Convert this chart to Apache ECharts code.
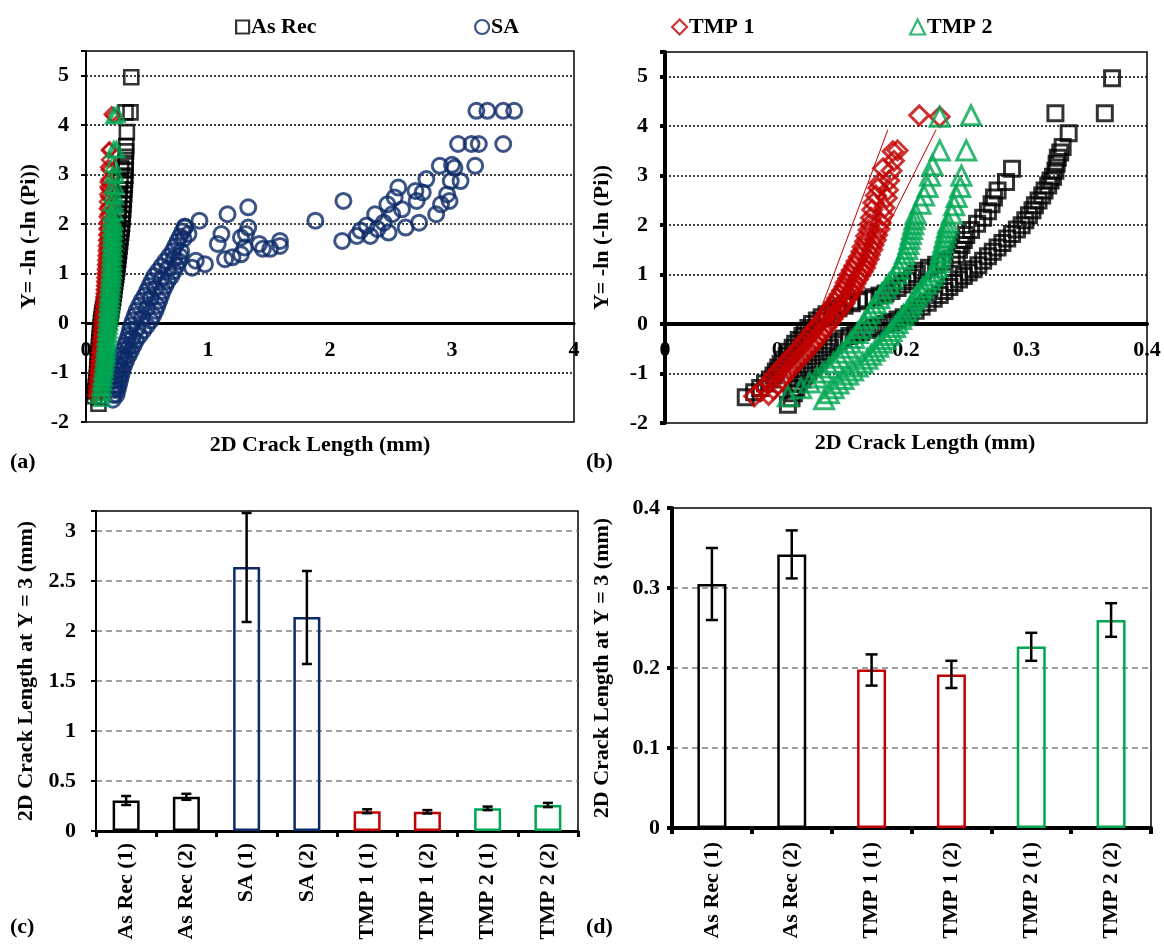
<!DOCTYPE html>
<html>
<head>
<meta charset="utf-8">
<title>2D crack length - Weibull</title>
<script src="https://cdn.jsdelivr.net/npm/echarts@6.0.0/dist/echarts.min.js"></script>
<style>
    html, body { margin: 0; padding: 0; background: #fff; }
    #chart { width: 1164px; height: 949px; }
</style>
</head>
<body>
<div id="chart"></div>
<script>
var FONT = '"Liberation Serif", "Times New Roman", serif';
var FS = 22;
var C_AS = '#000000', C_SA = '#0c2a68', C_T1 = '#c00000', C_T2 = '#00a651';

// ---- Weibull points [crack length mm, Y] ----
var asRec1 = [[0.067,-1.48],[0.074,-1.38],[0.079,-1.29],[0.083,-1.2],[0.087,-1.12],[0.09,-1.04],[0.092,-0.96],[0.094,-0.88],[0.096,-0.8],[0.098,-0.72],[0.101,-0.64],[0.103,-0.56],[0.106,-0.48],[0.108,-0.4],[0.111,-0.32],[0.114,-0.24],[0.116,-0.16],[0.119,-0.08],[0.122,0],[0.126,0.07],[0.13,0.14],[0.134,0.2],[0.139,0.26],[0.144,0.32],[0.149,0.37],[0.155,0.42],[0.161,0.46],[0.167,0.5],[0.173,0.54],[0.178,0.58],[0.183,0.62],[0.188,0.67],[0.193,0.73],[0.197,0.8],[0.201,0.87],[0.205,0.94],[0.209,1.01],[0.214,1.08],[0.219,1.14],[0.225,1.2],[0.232,1.26],[0.238,1.32],[0.242,1.4],[0.244,1.5],[0.246,1.6],[0.248,1.7],[0.25,1.8],[0.254,1.9],[0.259,2.03],[0.264,2.15],[0.268,2.28],[0.271,2.42],[0.273,2.56],[0.276,2.7],[0.283,2.87],[0.288,3.14],[0.324,4.26]];
var asRec2 = [[0.102,-1.63],[0.105,-1.5],[0.107,-1.4],[0.109,-1.3],[0.111,-1.21],[0.114,-1.12],[0.116,-1.04],[0.119,-0.96],[0.122,-0.88],[0.125,-0.8],[0.128,-0.72],[0.131,-0.64],[0.134,-0.56],[0.137,-0.48],[0.14,-0.41],[0.144,-0.35],[0.148,-0.29],[0.153,-0.24],[0.158,-0.2],[0.163,-0.16],[0.168,-0.12],[0.173,-0.08],[0.178,-0.04],[0.183,0],[0.188,0.04],[0.193,0.09],[0.198,0.14],[0.203,0.2],[0.208,0.27],[0.213,0.35],[0.218,0.43],[0.223,0.51],[0.228,0.59],[0.232,0.67],[0.236,0.75],[0.24,0.83],[0.244,0.9],[0.248,0.97],[0.252,1.04],[0.256,1.11],[0.26,1.19],[0.264,1.28],[0.268,1.37],[0.272,1.46],[0.276,1.55],[0.28,1.64],[0.284,1.73],[0.288,1.82],[0.292,1.91],[0.296,2.0],[0.299,2.1],[0.302,2.2],[0.305,2.3],[0.307,2.4],[0.31,2.5],[0.313,2.6],[0.315,2.7],[0.318,2.8],[0.32,2.9],[0.322,2.98],[0.324,3.1],[0.325,3.24],[0.326,3.36],[0.328,3.47],[0.33,3.58],[0.335,3.86],[0.365,4.26],[0.371,4.97]];
var tmp1a = [[0.074,-1.46],[0.079,-1.36],[0.083,-1.27],[0.086,-1.18],[0.089,-1.09],[0.092,-1.0],[0.095,-0.92],[0.098,-0.84],[0.101,-0.76],[0.104,-0.68],[0.107,-0.6],[0.11,-0.52],[0.113,-0.44],[0.115,-0.36],[0.118,-0.28],[0.121,-0.2],[0.123,-0.12],[0.126,-0.04],[0.129,0.04],[0.131,0.12],[0.134,0.2],[0.136,0.28],[0.139,0.36],[0.141,0.44],[0.143,0.52],[0.145,0.6],[0.147,0.68],[0.149,0.76],[0.15,0.84],[0.152,0.92],[0.153,1.0],[0.155,1.09],[0.157,1.18],[0.159,1.27],[0.161,1.36],[0.163,1.46],[0.164,1.56],[0.166,1.67],[0.167,1.78],[0.169,1.9],[0.17,2.02],[0.171,2.15],[0.172,2.31],[0.173,2.45],[0.175,2.6],[0.177,2.75],[0.178,2.85],[0.181,3.15],[0.189,3.49],[0.211,4.22]];
var tmp1b = [[0.086,-1.43],[0.09,-1.32],[0.094,-1.22],[0.097,-1.12],[0.1,-1.03],[0.103,-0.94],[0.106,-0.86],[0.109,-0.78],[0.112,-0.7],[0.115,-0.62],[0.118,-0.54],[0.121,-0.46],[0.124,-0.38],[0.126,-0.3],[0.129,-0.22],[0.131,-0.14],[0.134,-0.06],[0.136,0.02],[0.139,0.1],[0.141,0.18],[0.144,0.26],[0.146,0.34],[0.149,0.42],[0.151,0.5],[0.153,0.58],[0.155,0.66],[0.157,0.74],[0.158,0.82],[0.16,0.9],[0.162,0.98],[0.164,1.06],[0.166,1.14],[0.167,1.22],[0.169,1.31],[0.17,1.4],[0.172,1.5],[0.173,1.6],[0.175,1.7],[0.176,1.8],[0.178,1.92],[0.179,2.05],[0.181,2.2],[0.182,2.35],[0.184,2.55],[0.185,2.71],[0.186,2.9],[0.188,3.1],[0.19,3.3],[0.193,3.51],[0.228,4.19]];
var tmp2a = [[0.102,-1.46],[0.113,-1.3],[0.12,-1.18],[0.126,-1.08],[0.131,-0.98],[0.136,-0.88],[0.14,-0.78],[0.144,-0.68],[0.147,-0.58],[0.151,-0.48],[0.154,-0.38],[0.157,-0.28],[0.16,-0.18],[0.163,-0.08],[0.165,0.02],[0.168,0.12],[0.17,0.22],[0.173,0.32],[0.175,0.42],[0.178,0.52],[0.18,0.62],[0.183,0.72],[0.186,0.82],[0.189,0.92],[0.192,1.02],[0.194,1.12],[0.196,1.22],[0.198,1.32],[0.199,1.42],[0.201,1.52],[0.202,1.62],[0.203,1.72],[0.204,1.82],[0.205,1.92],[0.206,2.02],[0.207,2.12],[0.208,2.23],[0.212,2.43],[0.215,2.6],[0.218,2.77],[0.22,3.0],[0.222,3.21],[0.228,3.51],[0.228,4.19]];
var tmp2b = [[0.132,-1.52],[0.136,-1.4],[0.14,-1.3],[0.144,-1.2],[0.148,-1.11],[0.152,-1.02],[0.156,-0.94],[0.16,-0.86],[0.164,-0.78],[0.168,-0.7],[0.171,-0.62],[0.174,-0.54],[0.177,-0.46],[0.18,-0.38],[0.183,-0.3],[0.186,-0.22],[0.188,-0.14],[0.191,-0.06],[0.193,0.02],[0.196,0.1],[0.198,0.18],[0.201,0.26],[0.203,0.34],[0.205,0.42],[0.207,0.5],[0.209,0.58],[0.212,0.66],[0.214,0.74],[0.217,0.82],[0.22,0.9],[0.222,0.98],[0.224,1.06],[0.226,1.15],[0.227,1.25],[0.228,1.35],[0.229,1.45],[0.23,1.55],[0.231,1.65],[0.232,1.75],[0.233,1.85],[0.234,1.95],[0.235,2.05],[0.238,2.23],[0.24,2.4],[0.242,2.57],[0.245,2.77],[0.246,3.0],[0.25,3.51],[0.254,4.22]];
var saPts = [
    [0.22,-1.55],[0.225,-1.45],[0.23,-1.35],[0.235,-1.25],[0.24,-1.15],[0.245,-1.05],[0.255,-0.95],[0.265,-0.85],[0.275,-0.75],[0.29,-0.65],[0.305,-0.55],[0.32,-0.45],[0.335,-0.35],[0.35,-0.25],[0.36,-0.15],[0.37,-0.05],[0.385,0.05],[0.4,0.15],[0.415,0.25],[0.435,0.35],[0.455,0.45],[0.48,0.55],[0.5,0.65],[0.52,0.75],[0.54,0.85],[0.56,0.95],[0.59,1.05],[0.62,1.15],[0.65,1.25],[0.68,1.35],[0.71,1.45],[0.73,1.55],[0.75,1.65],[0.77,1.75],[0.79,1.85],[0.81,1.95],
    [0.25,-1.45],[0.26,-1.35],[0.27,-1.25],[0.28,-1.15],[0.29,-1.05],[0.3,-0.95],[0.315,-0.85],[0.33,-0.75],[0.35,-0.65],[0.37,-0.55],[0.39,-0.45],[0.41,-0.35],[0.44,-0.25],[0.47,-0.15],[0.5,-0.05],[0.53,0.05],[0.55,0.15],[0.57,0.25],[0.585,0.35],[0.6,0.45],[0.615,0.55],[0.63,0.65],[0.65,0.75],[0.67,0.85],[0.7,0.95],[0.72,1.05],[0.74,1.15],[0.76,1.25],[0.77,1.35],[0.78,1.45],
    [0.245,-1.3],[0.265,-1.1],[0.285,-0.9],[0.31,-0.7],[0.345,-0.5],[0.38,-0.3],[0.42,-0.1],[0.46,0.1],[0.5,0.3],[0.53,0.5],[0.57,0.7],[0.62,0.9],[0.67,1.1],[0.72,1.3],
    [0.8,1.7],[0.84,1.8],[0.81,1.93],[0.93,2.07],[0.87,1.12],[0.9,1.26],[0.975,1.19],[1.08,1.6],[1.11,1.8],[1.16,2.2],[1.14,1.29],[1.2,1.33],[1.27,1.39],[1.3,1.53],[1.27,1.73],[1.31,1.8],[1.33,1.93],[1.33,2.34],[1.42,1.6],[1.45,1.5],[1.51,1.5],[1.59,1.66],[1.59,1.56],
    [1.88,2.07],[2.1,1.66],[2.11,2.47],[2.22,1.76],[2.25,1.87],[2.3,1.97],[2.33,1.76],[2.37,2.2],[2.39,1.9],[2.44,2.03],[2.47,2.4],[2.48,1.83],[2.51,2.2],[2.53,2.54],[2.56,2.74],[2.59,2.3],[2.62,1.93],[2.7,2.67],[2.71,2.47],[2.73,2.03],[2.76,2.64],[2.79,2.91],[2.87,2.2],[2.9,3.18],[2.91,2.4],[2.96,2.6],[2.98,2.47],[2.99,2.87],[3.0,3.2],[3.02,3.14],[3.07,2.87],[3.05,3.62],[3.16,3.62],[3.19,3.18],[3.22,3.62],[3.2,4.29],[3.29,4.29],[3.42,4.29],[3.42,3.62],[3.51,4.29]
];
// thin fitted lines through TMP 1 (panel b)
var tmp1Fit1 = [[0.12,-0.3],[0.185,3.93]];
var tmp1Fit2 = [[0.15,0.3],[0.225,3.93]];

// ---- crack length at Y = 3 ----
var barCats  = ['As Rec (1)','As Rec (2)','SA (1)','SA (2)','TMP 1 (1)','TMP 1 (2)','TMP 2 (1)','TMP 2 (2)'];
var barGroup = ['As Rec','As Rec','SA','SA','TMP 1','TMP 1','TMP 2','TMP 2'];
var barMean  = [0.305, 0.342, 2.64, 2.14, 0.198, 0.192, 0.227, 0.26];
var barLow   = [0.26, 0.312, 2.09, 1.67, 0.178, 0.175, 0.209, 0.239];
var barHigh  = [0.35, 0.372, 3.18, 2.60, 0.217, 0.209, 0.244, 0.281];

var yTicksW = [-2,-1,0,1,2,3,4,5];

var groupColor = { 'As Rec': C_AS, 'SA': C_SA, 'TMP 1': C_T1, 'TMP 2': C_T2 };

var chart = echarts.init(document.getElementById('chart'));

function txt(size) {
    return { color: '#000', fontFamily: FONT, fontWeight: 'bold', fontSize: size };
}

function scat(name, data, idx, symbol, size, color, bw) {
    return {
        name: name, type: 'scatter', xAxisIndex: idx, yAxisIndex: idx,
        data: data, symbol: symbol, symbolSize: size, z: 3,
        itemStyle: { color: 'rgba(0,0,0,0)', borderColor: color, borderWidth: bw },
        emphasis: { disabled: true }, animation: false
    };
}

function weibullY(idx, lineW, gap) {
    return {
        gridIndex: idx, type: 'value', min: -2, max: 5.5, interval: 1,
        name: 'Y= -ln (-ln (Pi))', nameLocation: 'middle', nameRotate: 90,
        nameGap: gap, nameTextStyle: txt(FS),
        axisLine: { show: true, onZero: false, lineStyle: { color: '#000', width: lineW } },
        axisTick: { show: true, length: 5, lineStyle: { color: '#000', width: lineW } },
        axisLabel: Object.assign(txt(FS), { margin: 17, formatter: function (v) { return yTicksW.indexOf(v) >= 0 ? v : ''; } }),
        splitLine: { show: true, showMinLine: false, showMaxLine: false, lineStyle: { type: [2, 2], color: '#000', width: 1.5 } }
    };
}

// x axis sits on Y = 0; labels are pulled up next to that line
function weibullX(idx, max, step, lineW, lblMargin) {
    return {
        gridIndex: idx, type: 'value', min: 0, max: max, interval: step,
        axisLine: { show: true, onZero: true, lineStyle: { color: '#000', width: lineW } },
        axisTick: { show: false },
        axisLabel: Object.assign(txt(FS), { margin: lblMargin }),
        splitLine: { show: false }
    };
}

function barX(idx, cats, lineW, margin) {
    return {
        gridIndex: idx, type: 'category', data: cats,
        axisLine: { show: true, lineStyle: { color: '#000', width: lineW } },
        axisTick: { show: true, length: 6, lineStyle: { color: '#000', width: lineW } },
        axisLabel: Object.assign(txt(FS), { rotate: 90, interval: 0, margin: margin })
    };
}

function barY(idx, max, step, lineW, gap, margin) {
    return {
        gridIndex: idx, type: 'value', min: 0, max: max, interval: step,
        name: '2D Crack Length at Y = 3 (mm)', nameLocation: 'middle', nameRotate: 90,
        nameGap: gap, nameTextStyle: txt(FS),
        axisLine: { show: true, lineStyle: { color: '#000', width: lineW } },
        axisTick: { show: true, length: 5, lineStyle: { color: '#000', width: lineW } },
        axisLabel: Object.assign(txt(FS), { margin: margin, formatter: function (v) { return (Math.round(v * 10) % 5 === 0 || max < 1) ? v : ''; } }),
        splitLine: { show: true, showMinLine: false, showMaxLine: false, lineStyle: { type: [6, 4], color: '#808080', width: 1.5 } }
    };
}

function errorSeries(idx, data, cap) {
    return {
        type: 'custom', xAxisIndex: idx, yAxisIndex: idx, data: data, z: 5,
        encode: { x: 0, y: [1, 2] }, silent: true, animation: false,
        renderItem: function (params, api) {
            var lo = api.coord([api.value(0), api.value(1)]);
            var hi = api.coord([api.value(0), api.value(2)]);
            var st = { stroke: '#000', lineWidth: 2.5 };
            return { type: 'group', children: [
                { type: 'line', shape: { x1: lo[0], y1: lo[1], x2: hi[0], y2: hi[1] }, style: st },
                { type: 'line', shape: { x1: lo[0] - cap, y1: lo[1], x2: lo[0] + cap, y2: lo[1] }, style: st },
                { type: 'line', shape: { x1: hi[0] - cap, y1: hi[1], x2: hi[0] + cap, y2: hi[1] }, style: st }
            ] };
        }
    };
}

function barSeries(idx, ids, w) {
    return {
        type: 'bar', xAxisIndex: idx, yAxisIndex: idx, barWidth: w, animation: false,
        data: ids.map(function (i) {
            return { value: barMean[i], itemStyle: { color: 'rgba(0,0,0,0)', borderColor: groupColor[barGroup[i]], borderWidth: 2.5 } };
        })
    };
}

var allIds = barCats.map(function (c, i) { return i; });
var noSaIds = allIds.filter(function (i) { return barGroup[i] !== 'SA'; });

function legendItem(left, name, icon, color, w) {
    return {
        left: left, top: 11, itemWidth: w, itemHeight: w, itemGap: 0, selectedMode: false,
        textStyle: Object.assign(txt(FS), { padding: [0, 0, 0, -3] }),
        data: [{ name: name, icon: icon, itemStyle: { color: 'rgba(0,0,0,0)', borderColor: color, borderWidth: 2.2 } }]
    };
}

var option = {
    backgroundColor: '#fff',
    animation: false,
    legend: [
        legendItem(230, 'As Rec', 'rect', C_AS, 13),
        legendItem(469, 'SA', 'circle', C_SA, 14),
        legendItem(666, 'TMP 1', 'diamond', C_T1, 15),
        legendItem(904, 'TMP 2', 'triangle', C_T2, 15)
    ],
    grid: [
        { left: 86, top: 51, width: 488, height: 371, show: true, borderColor: '#000', borderWidth: 1.5 },
        { left: 665, top: 52, width: 482, height: 371, show: true, borderColor: '#000', borderWidth: 1.5 },
        { left: 96, top: 511, width: 482, height: 320, show: true, borderColor: '#000', borderWidth: 1.5 },
        { left: 672, top: 508, width: 479, height: 320, show: true, borderColor: '#000', borderWidth: 1.5 }
    ],
    xAxis: [
        weibullX(0, 4, 1, 3, -83),
        weibullX(1, 0.4, 0.1, 4, -84),
        barX(2, barCats, 3, 12),
        barX(3, noSaIds.map(function (i) { return barCats[i]; }), 4, 14)
    ],
    yAxis: [
        weibullY(0, 2, 46),
        weibullY(1, 4, 52),
        barY(2, 3.2, 0.5, 2, 59, 20),
        barY(3, 0.4, 0.1, 4, 59, 12)
    ],
    graphic: [
        { type: 'text', x: 320, y: 445, style: Object.assign(txt(FS), { text: '2D Crack Length (mm)', fill: '#000', align: 'center', verticalAlign: 'middle' }) },
        { type: 'text', x: 925, y: 443, style: Object.assign(txt(FS), { text: '2D Crack Length (mm)', fill: '#000', align: 'center', verticalAlign: 'middle' }) },
        { type: 'text', x: 10, y: 462, style: Object.assign(txt(FS), { text: '(a)', fill: '#000', verticalAlign: 'middle' }) },
        { type: 'text', x: 586, y: 462, style: Object.assign(txt(FS), { text: '(b)', fill: '#000', verticalAlign: 'middle' }) },
        { type: 'text', x: 10, y: 927, style: Object.assign(txt(FS), { text: '(c)', fill: '#000', verticalAlign: 'middle' }) },
        { type: 'text', x: 586, y: 927, style: Object.assign(txt(FS), { text: '(d)', fill: '#000', verticalAlign: 'middle' }) }
    ],
    series: [
        scat('As Rec', asRec1, 0, 'rect', 14, C_AS, 2.6),
        scat('As Rec', asRec2, 0, 'rect', 14, C_AS, 2.6),
        scat('SA', saPts, 0, 'circle', 15, C_SA, 3),
        scat('TMP 1', tmp1a, 0, 'diamond', 14, C_T1, 2.6),
        scat('TMP 1', tmp1b, 0, 'diamond', 14, C_T1, 2.6),
        scat('TMP 2', tmp2a, 0, 'triangle', 15, C_T2, 2.6),
        scat('TMP 2', tmp2b, 0, 'triangle', 15, C_T2, 2.6),

        scat('As Rec', asRec1, 1, 'rect', 15, C_AS, 3),
        scat('As Rec', asRec2, 1, 'rect', 15, C_AS, 3),
        { type: 'line', xAxisIndex: 1, yAxisIndex: 1, data: tmp1Fit1, symbol: 'none', z: 2, lineStyle: { color: C_T1, width: 1 }, silent: true },
        { type: 'line', xAxisIndex: 1, yAxisIndex: 1, data: tmp1Fit2, symbol: 'none', z: 2, lineStyle: { color: C_T1, width: 1 }, silent: true },
        scat('TMP 1', tmp1a, 1, 'diamond', 19, C_T1, 3),
        scat('TMP 1', tmp1b, 1, 'diamond', 19, C_T1, 3),
        scat('TMP 2', tmp2a, 1, 'triangle', 19, C_T2, 3),
        scat('TMP 2', tmp2b, 1, 'triangle', 19, C_T2, 3),

        barSeries(2, allIds, 27),
        errorSeries(2, allIds.map(function (i, k) { return [k, barLow[i], barHigh[i]]; }), 5),
        barSeries(3, noSaIds, 29),
        errorSeries(3, noSaIds.map(function (i, k) { return [k, barLow[i], barHigh[i]]; }), 6)
    ]
};

chart.setOption(option);
</script>
</body>
</html>
